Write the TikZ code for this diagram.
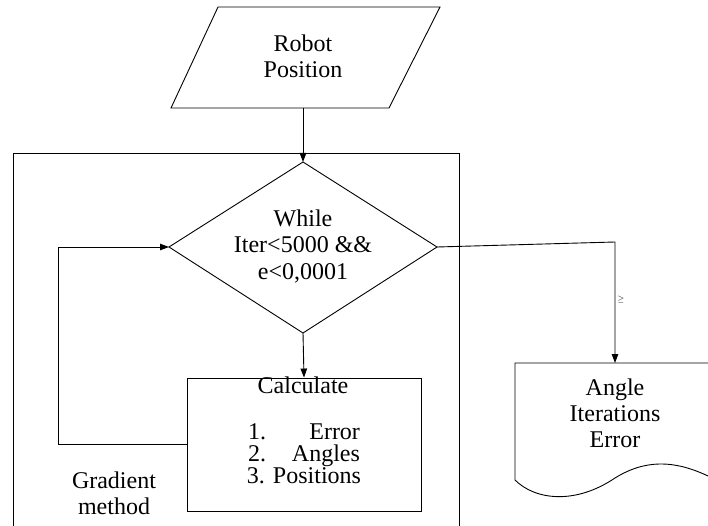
\documentclass[tikz,border=0pt]{standalone}
\usepackage{fontspec}
\setmainfont{Liberation Serif}
\usetikzlibrary{arrows.meta}

\tikzset{
  outline/.style={draw=black, line width=0.9pt},
  flow/.style={draw=black, line width=0.9pt, -{Triangle[length=9pt,width=6.5pt]}},
  % multi-line texts are placed by the baseline of their last line
  txt/.style={align=center, inner sep=0pt, anchor=base},
  procbox/.style={outline, rectangle, inner sep=0pt, minimum width=234pt, minimum height=133pt},
}

\begin{document}
\begin{tikzpicture}[x=1pt, y=-1pt, font=\fontsize{24}{26}\selectfont]
\useasboundingbox (0,0) rectangle (708,526);
\clip (0,0) rectangle (708,526);

% input: robot position (parallelogram)
\draw[outline] (218,7) -- (440,7) -- (389,108) -- (171,108) -- cycle;
\node[txt] (robot) at (303,78) {Robot\\Position};
\coordinate (robotB) at (303,108);

% gradient method frame (open at the bottom)
\draw[outline] (13,540) -- (13,153) -- (459,153) -- (459,540);
\node[txt] (grad) at (114,514) {Gradient\\method};

% loop condition (decision)
\coordinate (dT) at (303,162);
\coordinate (dR) at (437,247);
\coordinate (dB) at (303,333);
\coordinate (dL) at (169,247);
\draw[outline] (dT) -- (dR) -- (dB) -- (dL) -- cycle;
\node[txt] (cond) at (303,279) {While\\Iter<5000 \&\&\\e<0,0001};

% calculation step
\node[procbox] (calc) at (304,444.5) {};
\node[txt] (calcT) at (303,393) {Calculate};
\node[txt, font=\fontsize{24}{22}\selectfont] (calcL) at (304,483)
  {\makebox[112pt]{1.\hfill Error}\\
   \makebox[112pt]{2.\hfill Angles}\\
   \makebox[112pt]{3. Positions}};

% output document
\coordinate (docTop) at (615,363);
\draw[outline] (515,480) -- (515,363) -- (720,363) -- (720,482)
  .. controls (690,466) and (655,453) .. (615,478)
  .. controls (575,505) and (535,500) .. (515,480);
\node[txt] (out) at (615,447) {Angle\\Iterations\\Error};

% connectors
\coordinate (turnR) at (615,242);
\coordinate (loopB) at (58,444.5);
\coordinate (loopT) at (58,247);
\draw[flow] (robotB) -- (dT);
\draw[flow] (dB) -- (calc.north);
\draw[flow] (calc.west) -- (loopB) -- (loopT) -- (dL);
\draw[flow] (dR) -- (turnR) -- (docTop);
\node[inner sep=0pt, font=\fontsize{8}{8}\selectfont] (mark) at (621,299) {$\geq$};
\end{tikzpicture}
\end{document}
